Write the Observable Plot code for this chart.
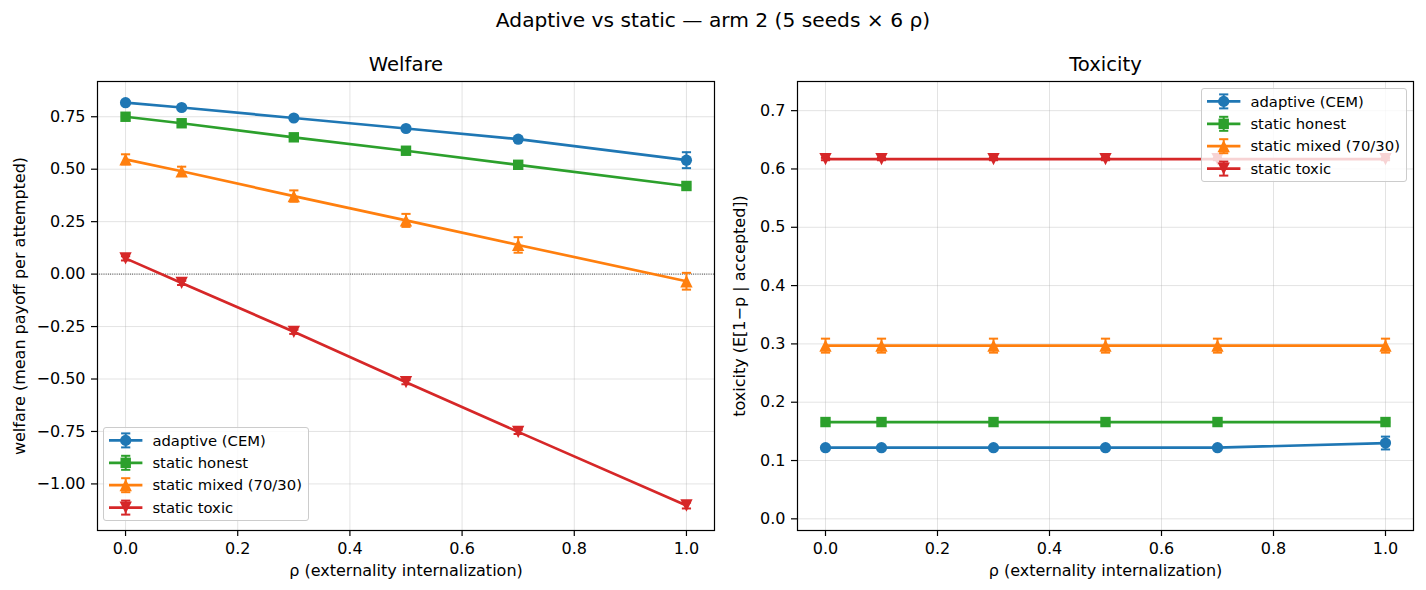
<!DOCTYPE html>
<html><head><meta charset="utf-8">
<script src="https://cdn.jsdelivr.net/npm/d3@7"></script>
<script src="https://cdn.jsdelivr.net/npm/@observablehq/plot@0.6"></script>
<style>
body{margin:0;background:#fff;}
#wrap{position:relative;width:1426px;height:590px;font-family:"DejaVu Sans",sans-serif;overflow:hidden;}
#suptitle{position:absolute;left:0;top:8px;width:1426px;text-align:center;font-size:20.2px;line-height:24px;color:#000;}
</style></head><body><div id="wrap"><div id="suptitle">Adaptive vs static — arm 2 (5 seeds × 6 ρ)</div></div>
<script>
// ---- data ----
const rho = [0, 0.1, 0.3, 0.5, 0.7, 1.0];
const seriesNames = ["adaptive (CEM)", "static honest", "static mixed (70/30)", "static toxic"];
const seriesColors = ["#1f77b4", "#2ca02c", "#ff7f0e", "#d62728"];
const xTicks = [0, 0.2, 0.4, 0.6, 0.8, 1.0];
const welfareTicks = [-1.0, -0.75, -0.5, -0.25, 0, 0.25, 0.5, 0.75];
const toxicityTicks = [0, 0.1, 0.2, 0.3, 0.4, 0.5, 0.6, 0.7];

const welfareAdaptive = [0.817, 0.794, 0.744, 0.694, 0.643, 0.543];
const welfareAdaptiveErr = [0.008, 0.006, 0.006, 0.007, 0.008, 0.038];
const welfareHonest = [0.750, 0.719, 0.652, 0.588, 0.521, 0.420];
const welfareHonestErr = [0.005, 0.005, 0.005, 0.005, 0.005, 0.006];
const welfareMixed = [0.547, 0.490, 0.372, 0.256, 0.139, -0.034];
const welfareMixedErr = [0.024, 0.022, 0.027, 0.031, 0.037, 0.040];
const welfareToxic = [0.075, -0.042, -0.275, -0.515, -0.752, -1.103];
const welfareToxicErr = [0.010, 0.010, 0.010, 0.010, 0.010, 0.014];

const toxAdaptive = [0.122, 0.122, 0.122, 0.122, 0.122, 0.130];
const toxAdaptiveErr = [0.002, 0.002, 0.002, 0.002, 0.002, 0.011];
const toxHonest = [0.166, 0.166, 0.166, 0.166, 0.166, 0.166];
const toxHonestErr = [0.001, 0.001, 0.001, 0.001, 0.001, 0.001];
const toxMixed = [0.297, 0.297, 0.297, 0.297, 0.297, 0.297];
const toxMixedErr = [0.012, 0.012, 0.012, 0.012, 0.012, 0.012];
const toxToxic = [0.617, 0.617, 0.617, 0.617, 0.617, 0.617];
const toxToxicErr = [0.002, 0.002, 0.002, 0.002, 0.002, 0.002];

// ---- symbols (matplotlib-like) ----
const rad = size => Math.sqrt(size / Math.PI);
const symCircle = {draw(c, s){ const r = rad(s); c.moveTo(r,0); c.arc(0,0,r,0,2*Math.PI); c.closePath(); }};
const symSquare = {draw(c, s){ const r = rad(s)*0.93; c.rect(-r,-r,2*r,2*r); }};
const symTriUp = {draw(c, s){ const r = rad(s)*1.1; c.moveTo(0,-r); c.lineTo(r,r); c.lineTo(-r,r); c.closePath(); }};
const symTriDown = {draw(c, s){ const r = rad(s)*1.1; c.moveTo(0,r); c.lineTo(r,-r); c.lineTo(-r,-r); c.closePath(); }};
const symCap = {draw(c, s){ c.moveTo(-4.6,0); c.lineTo(4.6,0); }};
const seriesSymbols = [symCircle, symSquare, symTriUp, symTriDown];
const MR = 5.6, LW = 2.7, EW = 2.0;

function rows(vals, errs) { return rho.map((x, i) => ({x, y: vals[i], e: errs[i]})); }

function seriesMarks(data, i) {
  const color = seriesColors[i];
  return [
    Plot.line(data, {x: "x", y: "y", stroke: color, strokeWidth: LW}),
    Plot.ruleX(data, {x: "x", y1: d => d.y - d.e, y2: d => d.y + d.e, stroke: color, strokeWidth: EW}),
    Plot.dot(data, {x: "x", y: d => d.y + d.e, symbol: symCap, r: 1, stroke: color, fill: "none", strokeWidth: EW}),
    Plot.dot(data, {x: "x", y: d => d.y - d.e, symbol: symCap, r: 1, stroke: color, fill: "none", strokeWidth: EW}),
    Plot.dot(data, {x: "x", y: "y", symbol: seriesSymbols[i], r: MR, fill: color, stroke: "none"})
  ];
}

function panel(o) {
  const grid = {stroke: "#b0b0b0", strokeOpacity: 0.35, strokeWidth: 1};
  const marks = [
    Plot.gridX(xTicks, grid),
    Plot.gridY(o.yTicks, grid),
  ];
  if (o.zero) marks.push(Plot.ruleY([0], {stroke: "black", strokeWidth: 0.8, strokeDasharray: "0.8,1.4"}));
  o.series.forEach((s, i) => marks.push(...seriesMarks(s, i)));
  marks.push(
    Plot.frame({stroke: "black", strokeWidth: 1.2}),
    Plot.axisX(xTicks, {tickFormat: d3.format(".1f"), tickSize: 6, tickPadding: 6, strokeWidth: 1.2, label: null, fontSize: 16}),
    Plot.axisY(o.yTicks, {tickFormat: d3.format(o.yFmt), tickSize: 6, tickPadding: 6, strokeWidth: 1.2, label: null, fontSize: 16}),
    Plot.text([o.title], {text: d => d, frameAnchor: "top", textAnchor: "middle", lineAnchor: "middle", dy: -16.3, fontSize: 19.6}),
    Plot.text(["ρ (externality internalization)"], {text: d => d, frameAnchor: "bottom", textAnchor: "middle", lineAnchor: "middle", dy: 40, fontSize: 16}),
    Plot.text([o.yLabel], {text: d => d, frameAnchor: "left", textAnchor: "middle", lineAnchor: "middle", dx: o.yLabelDx, rotate: -90, fontSize: 16})
  );
  const svg = Plot.plot({
    width: o.width, height: 590,
    marginLeft: o.marginLeft, marginRight: o.marginRight, marginTop: 81, marginBottom: 60,
    x: {domain: [-0.05, 1.05]},
    y: {domain: o.yDomain},
    style: {fontFamily: "DejaVu Sans", fontSize: "16px", background: "transparent", color: "black", overflow: "visible"},
    marks
  });
  svg.style.position = "absolute";
  svg.style.left = o.left + "px";
  svg.style.top = "0px";
  document.getElementById("wrap").appendChild(svg);
}

panel({
  left: 0, width: 716, marginLeft: 97, marginRight: 2,
  yDomain: [-1.222, 0.918], yTicks: welfareTicks, yFmt: ".2f", zero: true,
  title: "Welfare", yLabel: "welfare (mean payoff per attempted)", yLabelDx: -78,
  series: [rows(welfareAdaptive, welfareAdaptiveErr), rows(welfareHonest, welfareHonestErr),
           rows(welfareMixed, welfareMixedErr), rows(welfareToxic, welfareToxicErr)]
});
panel({
  left: 716, width: 710, marginLeft: 81, marginRight: 13,
  yDomain: [-0.02, 0.75], yTicks: toxicityTicks, yFmt: ".1f", zero: false,
  title: "Toxicity", yLabel: "toxicity (E[1−p | accepted])", yLabelDx: -57.5,
  series: [rows(toxAdaptive, toxAdaptiveErr), rows(toxHonest, toxHonestErr),
           rows(toxMixed, toxMixedErr), rows(toxToxic, toxToxicErr)]
});

// ---- legends ----
function legend(left, top) {
  const w = 206, h = 94;
  const div = d3.select("#wrap").append("div")
    .style("position", "absolute").style("left", left + "px").style("top", top + "px")
    .style("width", w + "px").style("height", h + "px").style("box-sizing", "border-box")
    .style("background", "rgba(255,255,255,0.8)").style("border", "1px solid #cccccc")
    .style("border-radius", "3px");
  const svg = div.append("svg").attr("width", w).attr("height", h)
    .style("position", "absolute").style("left", "-1px").style("top", "-1px").style("overflow", "visible");
  seriesNames.forEach((name, i) => {
    const color = seriesColors[i];
    const g = svg.append("g").attr("transform", `translate(0,${13.4 + i * 22.4})`);
    g.append("line").attr("x1", 6).attr("x2", 39.4).attr("y1", 0).attr("y2", 0)
      .attr("stroke", color).attr("stroke-width", LW);
    g.append("line").attr("x1", 22.7).attr("x2", 22.7).attr("y1", -7).attr("y2", 7)
      .attr("stroke", color).attr("stroke-width", EW);
    [-7, 7].forEach(dy => g.append("line").attr("x1", 18.1).attr("x2", 27.3).attr("y1", dy).attr("y2", dy)
      .attr("stroke", color).attr("stroke-width", EW));
    g.append("path").attr("transform", "translate(22.7,0)")
      .attr("d", d3.symbol().type(seriesSymbols[i]).size(Math.PI * MR * MR)())
      .attr("fill", color);
    g.append("text").attr("x", 49.4).attr("y", 0).attr("dy", "0.35em")
      .attr("font-family", "DejaVu Sans").attr("font-size", 14.8).attr("fill", "black").text(name);
  });
}
legend(103, 427);
legend(1201, 88);
</script></body></html>
